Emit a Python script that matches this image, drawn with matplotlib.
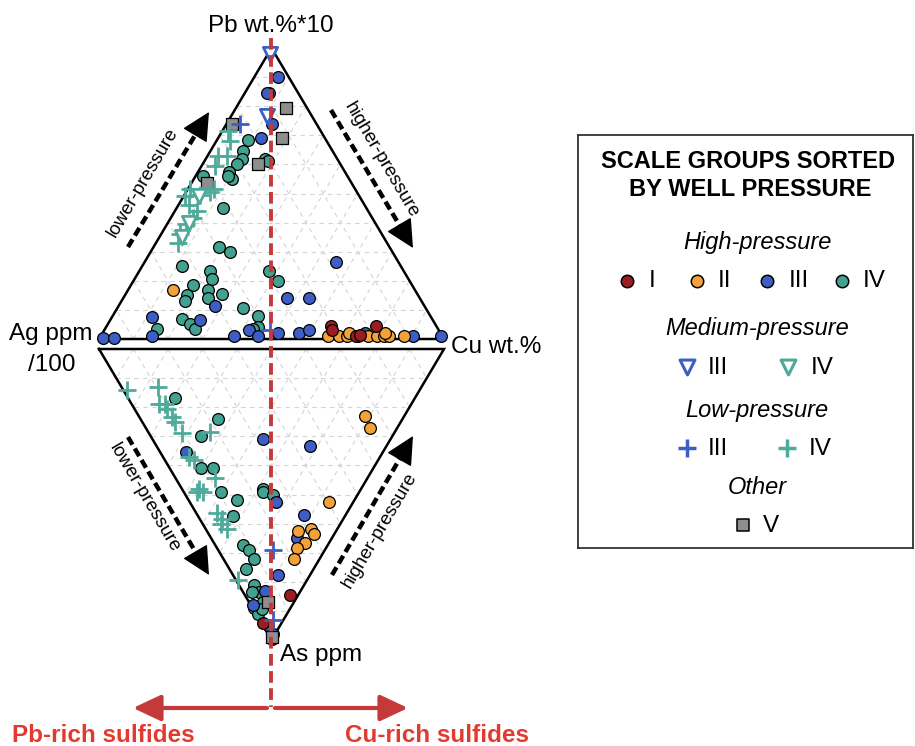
import numpy as np
import matplotlib.pyplot as plt

plt.rcParams['font.family'] = ['Liberation Sans', 'DejaVu Sans']

# compositions, in percent
# upper triangle: (Pb wt.%*10, Cu wt.%), remainder is Ag ppm/100
# lower triangle: (As ppm, Cu wt.%), remainder is Ag ppm/100
I_upper = [(4.5, 65), (4.5, 78), (1, 74), (3, 66), (1.5, 75)]
II_upper = [(17, 13), (1, 66), (1, 69), (1, 71.5), (1, 74.5), (1, 77.5), (1, 80), (1, 82),
            (1, 83.5), (1, 88), (2, 71.5), (2, 82)]
III_upper = [(90, 7), (84.5, 7), (84.5, 6.5), (74, 13), (69, 12.5), (26.5, 55.5), (14, 47.5),
             (14, 54), (11.5, 28), (6.5, 26), (7.5, 11.5), (0.5, 1), (0.5, 4), (1, 15), (1, 38.5),
             (3, 42), (1, 45.5), (2, 51), (2, 57), (3, 59.5), (2, 76), (1, 90.5), (1, 98.5)]
IV_upper = [(68.5, 9), (64.5, 9.5), (62, 10.5), (60, 10), (57.5, 9), (55, 11), (56, 9.5), (62, 17),
            (61, 18.5), (56, 2), (45, 13.5), (31.5, 19), (30, 23), (25, 11.5), (23.5, 20.5),
            (20.5, 22.5), (18.5, 18), (15, 18), (13, 18.5), (17, 23), (14, 24.5), (15.5, 28),
            (10.5, 36.5), (8, 42), (7, 20.5), (5, 24), (3.5, 26), (3.5, 15), (4, 44), (3.5, 43),
            (23.5, 37.5), (20, 42)]
V_upper = [(79.5, 14.5), (74, 1.5), (69, 18.5), (60, 16), (53.5, 4.5)]
III_med_upper = [(98, 0.5), (76.5, 10.5)]
IV_med_upper = [(35, 6.5), (40, 6), (49, 4.5)]
III_low_upper = [(74, 4), (3, 48)]
IV_low_upper = [(71.5, 1.5), (68, 4), (63, 3), (63, 5.5), (59.5, 4), (51.5, 0.5), (49.5, 4.5),
                (50.5, 7), (51.5, 7.5), (49, 0.5), (46, 3), (44, 6.5), (41.5, 6.5), (39.5, 5.5),
                (36, 5.5), (33, 6.5)]

I_lower = [(84.5, 13), (94, 0.5), (99.5, 0.3)]
II_lower = [(23, 65.5), (27, 65), (52.5, 40.5), (62.5, 26.5), (62, 30.5), (66.5, 26.5),
            (68.5, 23), (72, 20.5), (63.5, 30.5)]
III_lower = [(35.5, 7.5), (31, 32), (33.5, 44.5), (57, 31), (77.5, 13), (83, 6.5), (88, 0.5),
             (52.5, 25), (98, 1.5), (95, 1.5), (65, 25)]
IV_lower = [(17, 13.5), (24, 22.5), (30, 14.5), (41, 9), (41, 12.5), (49, 11), (52, 14), (57.5, 10),
            (67.5, 8), (69, 9), (72, 9), (75.5, 5), (81, 4.5), (83.5, 4.5), (87, 4), (89, 0.5),
            (91, 0.5), (89.5, 2.5), (48, 23.5), (49, 23), (50, 25.5), (83.5, 2.5)]
V_lower = [(87, 5.5), (99, 0.5)]
III_low_lower = [(69, 16), (93, 4)]
IV_low_lower = [(14, 1), (13, 10.5), (19, 8), (19, 9.5), (20.5, 9.5), (23.5, 9.5), (25, 9.5),
                (29, 9.5), (37, 7.5), (38, 8.5), (28.5, 18), (44.5, 11.5), (48, 5), (49, 5.5),
                (49, 4), (56.5, 6), (58.5, 6.5), (60, 5.5), (62, 6), (79.5, 0.5)]

RED = '#9c1d1f'
ORANGE = '#f3a23a'
BLUE = '#3d5fc5'
TEAL = '#43a18f'
TEAL_L = '#4eab9b'
GRAY = '#8e8e8e'
ARROW_RED = '#c4393a'
TEXT_RED = '#e23a2e'

SCALE = 345.0          # pixels per unit edge
H = 291 / SCALE         # triangle height
GAP = 10 / SCALE


def upper_xy(pts):
    a = np.asarray(pts, float) / 100
    return a[:, 1] + a[:, 0] / 2, GAP / 2 + a[:, 0] * H


def lower_xy(pts):
    a = np.asarray(pts, float) / 100
    return a[:, 1] + a[:, 0] / 2, -GAP / 2 - a[:, 0] * H


def P(px, py):
    """layout helper: picture pixel -> data coords"""
    return (px - 99) / SCALE, (344 - py) / SCALE


fig = plt.figure(figsize=(9.15, 7.46), dpi=100)
ax = fig.add_axes([0, 0, 1, 1])
ax.set_xlim(P(0, 0)[0], P(915, 0)[0])
ax.set_ylim(P(0, 746)[1], P(0, 0)[1])
ax.axis('off')

# grid at 10 %
for f in np.arange(0.1, 1.0, 0.1):
    for conv in (upper_xy, lower_xy):
        for seg in ([(f * 100, 0), (f * 100, (1 - f) * 100)],
                    [(0, f * 100), ((1 - f) * 100, f * 100)],
                    [(0, (1 - f) * 100), ((1 - f) * 100, 0)]):
            x, y = conv(seg)
            ax.plot(x, y, color='#d4d4d4', lw=0.8, ls=(0, (4, 4)), zorder=1)

# triangle outlines
for conv in (upper_xy, lower_xy):
    x, y = conv([(0, 0), (0, 100), (100, 0), (0, 0)])
    ax.plot(x, y, color='black', lw=1.8, zorder=2, solid_joinstyle='miter')

circle_kw = dict(s=72, edgecolors='black', linewidths=0.9, zorder=4)
for pts_u, pts_l, col in ((IV_upper, IV_lower, TEAL), (III_upper, III_lower, BLUE),
                          (II_upper, II_lower, ORANGE), (I_upper, I_lower, RED)):
    ax.scatter(*upper_xy(pts_u), c=col, **circle_kw)
    ax.scatter(*lower_xy(pts_l), c=col, **circle_kw)

for conv, pts in ((upper_xy, V_upper), (lower_xy, V_lower)):
    ax.scatter(*conv(pts), marker='s', s=66, c=GRAY, edgecolors='black', linewidths=0.9, zorder=5)
for conv, pts, col in ((upper_xy, IV_low_upper, TEAL_L), (lower_xy, IV_low_lower, TEAL_L),
                       (upper_xy, III_low_upper, BLUE), (lower_xy, III_low_lower, BLUE)):
    ax.scatter(*conv(pts), marker='+', s=180, c=col, linewidths=2, zorder=5)
for pts, col in ((IV_med_upper, TEAL_L), (III_med_upper, BLUE)):
    ax.scatter(*upper_xy(pts), marker='v', s=105, facecolors='white', edgecolors=col,
               linewidths=2, zorder=5)

# red divider and arrows
ax.plot(*zip(P(271, 38), P(271, 707)), color=ARROW_RED, lw=2.8, ls=(0, (3, 1.4)), zorder=6)
for tip, base in ((P(133, 708), P(267, 708)), (P(408, 708), P(275, 708))):
    ax.annotate('', xy=tip, xytext=base,
                arrowprops=dict(arrowstyle='-|>,head_length=0.85,head_width=0.4', lw=3,
                                color=ARROW_RED, mutation_scale=20, shrinkA=0, shrinkB=0))
ax.text(*P(103, 742), 'Pb-rich sulfides', color=TEXT_RED, fontsize=17.5, fontweight='bold',
        ha='center', va='baseline')
ax.text(*P(437, 742), 'Cu-rich sulfides', color=TEXT_RED, fontsize=17.5, fontweight='bold',
        ha='center', va='baseline')

# pressure arrows
arrows = [((128, 247), (209, 112), 'lower-pressure', (143, 182), 59.5),
          ((331, 110), (413, 248), 'higher-pressure', (381, 160), -59.5),
          ((128, 437), (209, 575), 'lower-pressure', (144, 498), -59.5),
          ((332, 575), (413, 436), 'higher-pressure', (380, 530), 59.5)]
for start, tip, label, tpos, rot in arrows:
    s = np.array(P(*start))
    t = np.array(P(*tip))
    d = (t - s) / np.hypot(*(t - s))
    hl = 20 / SCALE
    ax.plot([s[0], t[0] - d[0] * hl], [s[1], t[1] - d[1] * hl], color='black', lw=3.2,
            ls=(0, (2, 1)), solid_capstyle='butt', dash_capstyle='butt', zorder=6)
    ax.annotate('', xy=t, xytext=t - d * hl,
                arrowprops=dict(arrowstyle='-|>,head_length=0.9,head_width=0.45', lw=1,
                                color='black', mutation_scale=20, shrinkA=0, shrinkB=0))
    ax.text(*P(*tpos), label, rotation=rot, rotation_mode='anchor', fontsize=13.5,
            ha='center', va='center')

# vertex labels
ax.text(*P(271, 32), 'Pb wt.%*10', fontsize=17.5, ha='center', va='baseline')
ax.text(*P(51, 340), 'Ag ppm', fontsize=17.5, ha='center', va='baseline')
ax.text(*P(52, 371), '/100', fontsize=17.5, ha='center', va='baseline')
ax.text(*P(451, 353), 'Cu wt.%', fontsize=17.5, ha='left', va='baseline')
ax.text(*P(280, 661), 'As ppm', fontsize=17.5, ha='left', va='baseline')

# legend box
lax = fig.add_axes([578 / 915, (746 - 548) / 746, 335 / 915, 413 / 746])
lax.set_xlim(578, 913)
lax.set_ylim(548, 135)
lax.set_xticks([])
lax.set_yticks([])
for sp in lax.spines.values():
    sp.set_linewidth(1.3)
    sp.set_color('#333333')

lax.text(748, 162, 'SCALE GROUPS SORTED', fontsize=17, fontweight='bold', ha='center', va='center')
lax.text(750, 190, 'BY WELL PRESSURE', fontsize=17, fontweight='bold', ha='center', va='center')

sections = [('High-pressure', 242), ('Medium-pressure', 329), ('Low-pressure', 410), ('Other', 488)]
for name, y in sections:
    lax.text(757, y, name, fontsize=17, style='italic', ha='center', va='center')

legend_rows = [
    (280, 'o', RED, 'I', 627, 649), (280, 'o', ORANGE, 'II', 697, 718),
    (280, 'o', BLUE, 'III', 767, 789), (280, 'o', TEAL, 'IV', 842, 863),
    (367, 'v', BLUE, 'III', 687, 708), (367, 'v', TEAL_L, 'IV', 788, 811),
    (448, '+', BLUE, 'III', 687, 708), (448, '+', TEAL_L, 'IV', 787, 809),
    (525, 's', GRAY, 'V', 743, 763),
]
for y, m, col, lab, mx, tx in legend_rows:
    if m == 'o':
        lax.scatter([mx], [y + 1], s=80, c=col, edgecolors='black', linewidths=1.1)
    elif m == 's':
        lax.scatter([mx], [y], s=85, marker='s', c=col, edgecolors='black', linewidths=1.1)
    elif m == 'v':
        lax.scatter([mx], [y], s=115, marker='v', facecolors='white', edgecolors=col, linewidths=2.2)
    else:
        lax.scatter([mx], [y], s=160, marker='+', c=col, linewidths=2.5)
    lax.text(tx, y + 1, lab, fontsize=17.5, ha='left', va='center')

fig.savefig('out.png', dpi=100)
